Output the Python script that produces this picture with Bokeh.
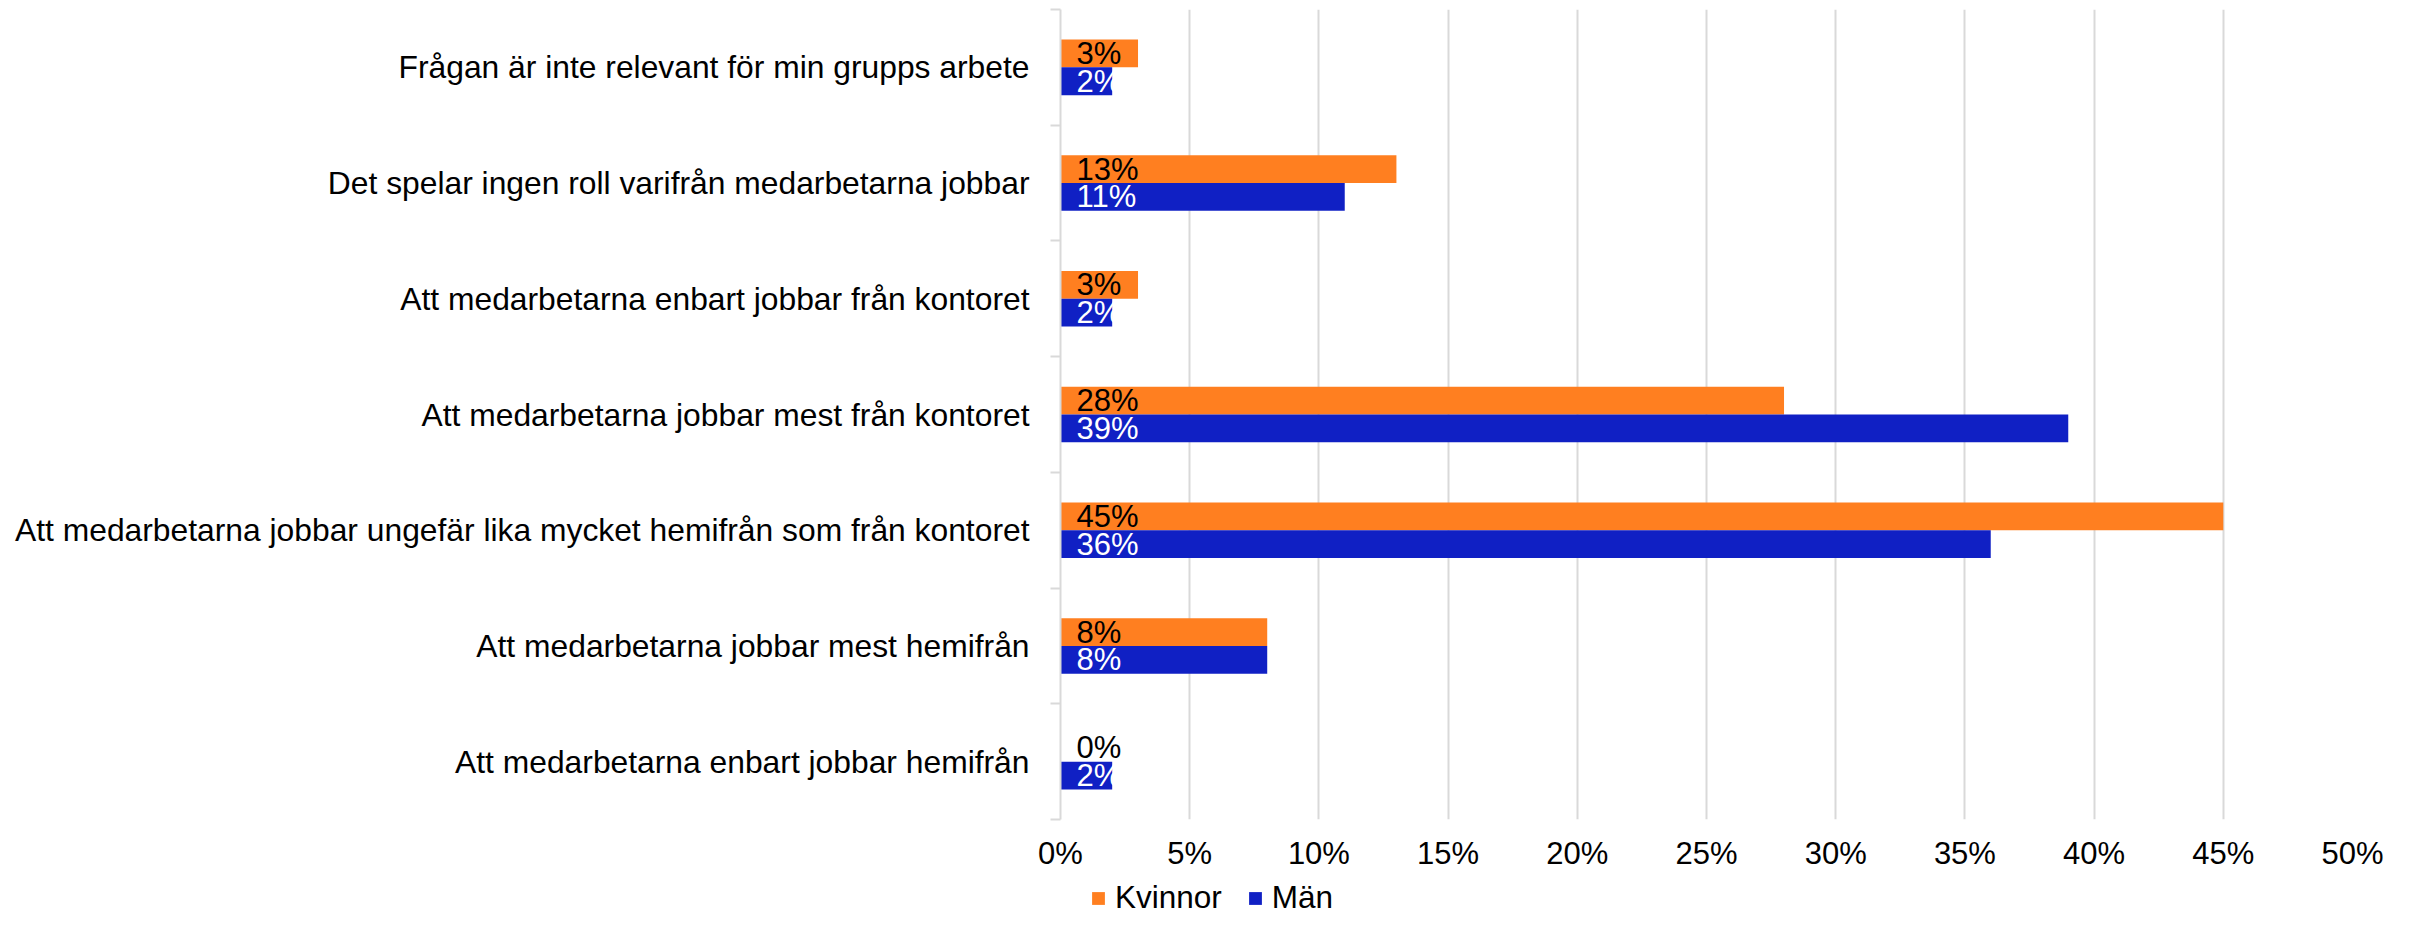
from bokeh.plotting import figure
from bokeh.models import (Range1d, FixedTicker, CustomJSTickFormatter, Legend,
                          LegendItem, ColumnDataSource)
from bokeh.layouts import column
from bokeh.embed import file_html
from bokeh.resources import INLINE
from bokeh.core.properties import value

categories = [
    "Frågan är inte relevant för min grupps arbete",
    "Det spelar ingen roll varifrån medarbetarna jobbar",
    "Att medarbetarna enbart jobbar från kontoret",
    "Att medarbetarna jobbar mest från kontoret",
    "Att medarbetarna jobbar ungefär lika mycket hemifrån som från kontoret",
    "Att medarbetarna jobbar mest hemifrån",
    "Att medarbetarna enbart jobbar hemifrån",
]
kvinnor = [3, 13, 3, 28, 45, 8, 0]
man = [2, 11, 2, 39, 36, 8, 2]
series_names = ["Kvinnor", "Män"]
x_ticks = [0, 5, 10, 15, 20, 25, 30, 35, 40, 45, 50]

FONT_NAME = "Liberation Sans"
FONT = value(FONT_NAME)
ORANGE = "#FF7F20"
BLUE = "#1020C4"
GRID = "#D9D9D9"

n = len(categories)
pos = [i + 0.5 for i in range(n)]

W = 2399
BL, BR = 1060, 47
p = figure(width=W, height=878, output_backend="svg", toolbar_location=None,
           x_range=Range1d(0, 50), y_range=Range1d(n, 0),
           min_border_left=BL, min_border_right=BR,
           min_border_top=9, min_border_bottom=59)
p.outline_line_color = None
p.background_fill_color = "white"
p.border_fill_color = "white"

src_k = ColumnDataSource(dict(y=[c - 0.12 for c in pos], v=kvinnor,
                              lab=[f"{v}%" for v in kvinnor]))
src_m = ColumnDataSource(dict(y=[c + 0.12 for c in pos], v=man,
                              lab=[f"{v}%" for v in man]))

rk = p.hbar(y="y", left=0, right="v", height=0.24, source=src_k,
            fill_color=ORANGE, line_color=None)
rm = p.hbar(y="y", left=0, right="v", height=0.24, source=src_m,
            fill_color=BLUE, line_color=None)

p.text(x=0, y="y", text="lab", source=src_k, x_offset=16, text_align="left",
       text_baseline="middle", text_font=FONT, text_font_size="31px",
       text_color="black")
p.text(x=0, y="y", text="lab", source=src_m, x_offset=16, text_align="left",
       text_baseline="middle", text_font=FONT, text_font_size="31px",
       text_color="white")

# y axis
ya = p.yaxis[0]
ya.ticker = FixedTicker(ticks=pos, minor_ticks=list(range(n + 1)))
ya.formatter = CustomJSTickFormatter(args=dict(labels=categories),
                                     code="return labels[Math.floor(tick)];")
ya.major_tick_out = 0
ya.major_tick_in = 0
ya.minor_tick_out = 10
ya.minor_tick_in = 0
ya.minor_tick_line_color = GRID
ya.minor_tick_line_width = 2
ya.axis_line_color = GRID
ya.axis_line_width = 2
ya.major_label_standoff = 21
ya.major_label_text_font = FONT_NAME
ya.major_label_text_font_size = "31.8px"
ya.major_label_text_color = "black"

# x axis
xa = p.xaxis[0]
xa.ticker = FixedTicker(ticks=x_ticks)
xa.formatter = CustomJSTickFormatter(code="return Math.round(tick) + '%';")
xa.axis_line_color = None
xa.major_tick_line_color = None
xa.minor_tick_line_color = None
xa.major_label_standoff = 10
xa.major_label_text_font = FONT_NAME
xa.major_label_text_font_size = "31px"
xa.major_label_text_color = "black"

p.ygrid.visible = False
p.xgrid.ticker = FixedTicker(ticks=x_ticks)
p.xgrid.grid_line_color = GRID
p.xgrid.grid_line_width = 2

# legend strip below the chart
lg = figure(width=W, height=38, output_backend="svg", toolbar_location=None,
            x_range=Range1d(0, 1), y_range=Range1d(0, 1),
            min_border_left=BL, min_border_right=BR, min_border_top=0,
            min_border_bottom=0)
lg.axis.visible = False
lg.grid.visible = False
lg.outline_line_color = None
lk = lg.hbar(y=[-10], left=[0], right=[0], height=0.5, fill_color=ORANGE, line_color=None)
lm = lg.hbar(y=[-10], left=[0], right=[0], height=0.5, fill_color=BLUE, line_color=None)
legend = Legend(items=[LegendItem(label=series_names[0], renderers=[lk]),
                       LegendItem(label=series_names[1], renderers=[lm])],
                orientation="horizontal", glyph_width=16, glyph_height=16,
                label_standoff=9, spacing=25, padding=0, margin=0,
                border_line_color=None, background_fill_alpha=0,
                label_text_font=FONT_NAME, label_text_font_size="31.5px",
                label_text_color="black", location=(30, 0))
lg.add_layout(legend)

layout = column(p, lg, spacing=0)
open("out.html", "w").write(file_html(layout, INLINE))
